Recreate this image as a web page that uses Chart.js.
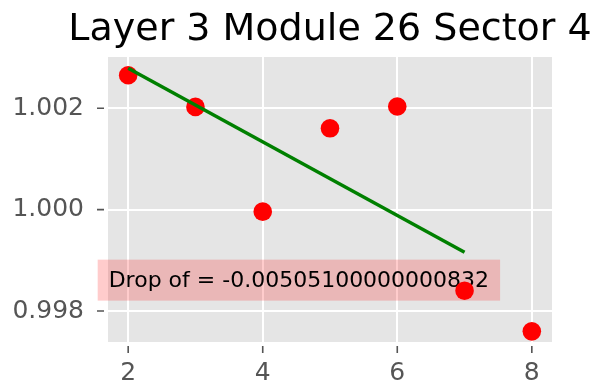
<!DOCTYPE html>
<html>
<head>
<meta charset="utf-8">
<script src="https://cdn.jsdelivr.net/npm/chart.js@4.4.0/dist/chart.umd.min.js"></script>
<style>
  html, body { margin: 0; padding: 0; background: #fff; }
  canvas { display: block; }
</style>
</head>
<body>
<canvas id="chart" width="597" height="385"></canvas>
<script>
const chartTitle = 'Layer 3 Module 26 Sector 4';
const layers = [2, 3, 4, 5, 6, 7, 8];
const ratios = [1.002651, 1.002026, 0.999960, 1.001604, 1.002034, 0.998402, 0.997600];
const xTicks = [2, 4, 6, 8];
const yTicks = [0.998, 1.000, 1.002];
const dropLabel = 'Drop of = -0.00505100000000832';
const labelPos = { x: 1.71, y: 0.99861 };
const fitRange = [2, 7];

// least squares fit over all points
function linearFit(xs, ys) {
  const n = xs.length;
  const mx = xs.reduce((a, b) => a + b, 0) / n;
  const my = ys.reduce((a, b) => a + b, 0) / n;
  let sxy = 0, sxx = 0;
  for (let i = 0; i < n; i++) {
    sxy += (xs[i] - mx) * (ys[i] - my);
    sxx += (xs[i] - mx) * (xs[i] - mx);
  }
  const slope = sxy / sxx;
  return x => my + slope * (x - mx);
}
const fit = linearFit(layers, ratios);

const FONT = "'DejaVu Sans', sans-serif";

// grey panel + axis tick marks, drawn under the data
const panelPlugin = {
  id: 'panel',
  beforeDraw(chart) {
    const { ctx, chartArea: a } = chart;
    ctx.save();
    ctx.fillStyle = '#E5E5E5';
    ctx.fillRect(a.left, a.top, a.right - a.left, a.bottom - a.top);
    ctx.restore();
  },
  afterDraw(chart) {
    const { ctx, chartArea: a, scales } = chart;
    ctx.save();
    ctx.strokeStyle = '#555555';
    ctx.lineWidth = 1.6;
    ctx.beginPath();
    xTicks.forEach(v => {
      const x = scales.x.getPixelForValue(v);
      ctx.moveTo(x, a.bottom + 4);
      ctx.lineTo(x, a.bottom + 11);
    });
    yTicks.forEach(v => {
      const y = scales.y.getPixelForValue(v);
      ctx.moveTo(a.left - 4, y);
      ctx.lineTo(a.left - 11, y);
    });
    ctx.stroke();
    // title centred over the panel
    ctx.fillStyle = '#000';
    ctx.font = `38px ${FONT}`;
    ctx.textAlign = 'center';
    ctx.textBaseline = 'alphabetic';
    ctx.fillText(chartTitle, (a.left + a.right) / 2, 40);
    ctx.restore();
  }
};

// text box with the drop value
const dropBoxPlugin = {
  id: 'dropBox',
  beforeDatasetsDraw(chart) {
    const { ctx, scales } = chart;
    const x = scales.x.getPixelForValue(labelPos.x);
    const y = scales.y.getPixelForValue(labelPos.y);
    ctx.save();
    ctx.font = `22px ${FONT}`;
    const w = ctx.measureText(dropLabel).width;
    const padX = 11, h = 41;
    ctx.fillStyle = 'rgba(255,0,0,0.2)';
    ctx.fillRect(x - padX, y - h / 2, w + 2 * padX, h);
    ctx.fillStyle = '#000';
    ctx.textAlign = 'left';
    ctx.textBaseline = 'middle';
    ctx.fillText(dropLabel, x, y + 1);
    ctx.restore();
  }
};

new Chart(document.getElementById('chart'), {
  type: 'scatter',
  plugins: [panelPlugin, dropBoxPlugin],
  data: {
    datasets: [
      {
        type: 'line',
        data: fitRange.map(x => ({ x, y: fit(x) })),
        borderColor: '#008000',
        borderWidth: 3.5,
        pointRadius: 0,
        fill: false,
        order: 1
      },
      {
        data: layers.map((x, i) => ({ x, y: ratios[i] })),
        backgroundColor: '#FF0000',
        borderWidth: 0,
        pointRadius: 9.3,
        pointHoverRadius: 9.3,
        order: 2
      }
    ]
  },
  options: {
    responsive: false,
    animation: false,
    layout: { padding: { top: 57, right: 45, left: 0, bottom: 0 } },
    scales: {
      x: {
        type: 'linear',
        min: 1.7,
        max: 8.3,
        afterFit: s => { s.height = 43; },
        afterBuildTicks: s => { s.ticks = xTicks.map(v => ({ value: v })); },
        border: { display: false },
        grid: { color: '#FFFFFF', lineWidth: 2, drawTicks: false },
        ticks: { color: '#555555', padding: 16, font: { family: FONT, size: 25 }, callback: v => String(v) }
      },
      y: {
        type: 'linear',
        min: 0.99739,
        max: 1.00301,
        afterFit: s => { s.width = 108; },
        afterBuildTicks: s => { s.ticks = yTicks.map(v => ({ value: v })); },
        border: { display: false },
        grid: { color: '#FFFFFF', lineWidth: 2, drawTicks: false },
        ticks: { color: '#555555', padding: 24, font: { family: FONT, size: 25 }, callback: v => v.toFixed(3) }
      }
    },
    plugins: {
      legend: { display: false },
      tooltip: { enabled: false }
    }
  }
});
</script>
</body>
</html>
